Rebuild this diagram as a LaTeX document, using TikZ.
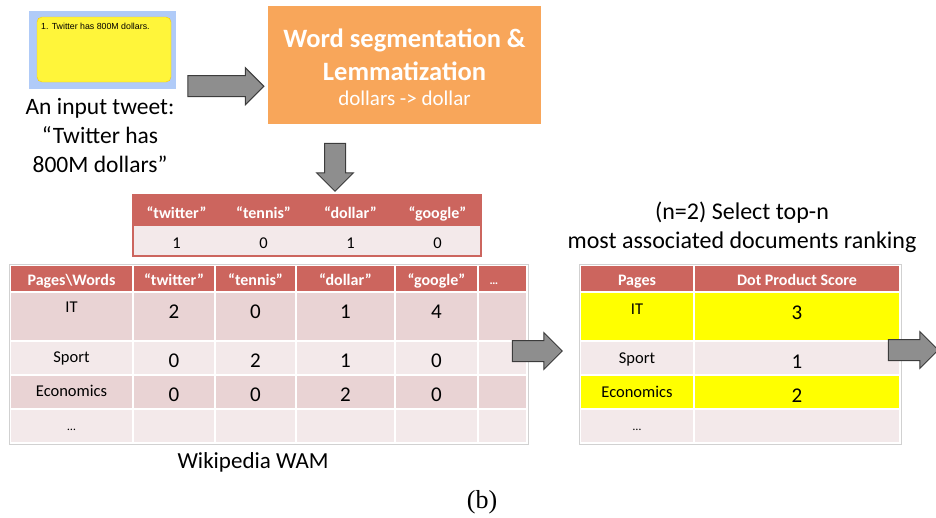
\documentclass[tikz,border=0pt]{standalone}
\usepackage{fontspec}
\setmainfont{Carlito}
\newfontfamily\tweetfont{Liberation Sans}
\newfontfamily\capfont{Liberation Serif}
\usepackage{tikz}
\definecolor{hdrred}{RGB}{204,101,94}
\definecolor{rowdark}{RGB}{233,211,212}
\definecolor{rowlight}{RGB}{243,233,234}
\definecolor{segorange}{RGB}{248,166,90}
\definecolor{tweetblue}{RGB}{176,203,248}
\definecolor{tweetyellow}{RGB}{255,245,58}
\definecolor{arrowgray}{RGB}{142,142,142}
\definecolor{arrowline}{RGB}{60,60,60}
\definecolor{hiyellow}{RGB}{255,255,0}
\tikzstyle{fatarrow}=[single arrow, draw=arrowline, fill=arrowgray, line width=1pt, inner sep=10pt, single arrow head extend=8pt, single arrow tip angle=90]
\tikzstyle{segbox}=[draw=white, line width=3pt, fill=segorange, minimum width=276pt, minimum height=121pt, drop shadow={shadow xshift=1.5pt, shadow yshift=-1.5pt, opacity=.35, fill=black}]
\tikzstyle{cellbox}=[draw=white, line width=1.5pt]
\tikzstyle{hdrtext}=[anchor=base, inner sep=0, text=white, font=\bfseries\fontsize{16}{19}\selectfont]
\tikzstyle{lbltext}=[anchor=base, inner sep=0, font=\fontsize{16.5}{19}\selectfont]
\tikzstyle{numtext}=[anchor=base, inner sep=0, font=\fontsize{21}{25}\selectfont]
\tikzstyle{bigtext}=[anchor=base, inner sep=0, font=\fontsize{23.5}{29}\selectfont]
\tikzstyle{segtext}=[anchor=base, inner sep=0, text=white, font=\bfseries\fontsize{26.5}{31}\selectfont]
\usetikzlibrary{shapes.arrows,shadows,positioning,calc}

\begin{document}
\begin{tikzpicture}[x=1pt,y=-1pt]
\useasboundingbox (0,0) rectangle (936,517);
\node (tweet) [fill=tweetblue, minimum width=147pt, minimum height=78pt, inner sep=0] at (102.5,50) {};
\node (card) [fill=tweetyellow, draw=yellow!60!orange, rounded corners=5pt, minimum width=134pt, minimum height=65pt, inner sep=0] at (104,49.5) {};
\node (tweettext) [anchor=base west, inner sep=0, font=\tweetfont\fontsize{8.8}{10}\selectfont] at (41,29) {1. Twitter has 800M dollars.};
\node (cap1) [bigtext] at (100,114) {An input tweet:};
\node (cap2) [bigtext] at (100,143) {“Twitter has};
\node (cap3) [bigtext] at (100,172) {800M dollars”};
\node (seg) [segbox] at (404.5,65) {};
\node (seg1) [segtext] at (404.5,47) {Word segmentation \&};
\node (seg2) [segtext] at (404.5,80) {Lemmatization};
\node (seg3) [anchor=base, inner sep=0, text=white, font=\fontsize{21}{25}\selectfont] at (404.5,105) {dollars -> dollar};
\node (arr1) [fatarrow, minimum height=76pt] at ($(tweet.south east)!.5!(seg.west |- tweet.south east)+(0,-3)$) {};
\node (arr2) [fatarrow, minimum height=48pt, shape border rotate=270] at ($(seg.south)+(-69.5,35)$) {};
% query vector
\fill[hdrred] (133,195) rectangle (481,226);
\fill[rowlight] (133,226) rectangle (481,256);
\draw[hdrred, line width=1.5pt] (133,195) rectangle (481,256);
\foreach \xm/\t/\v [count=\c] in {176.5/“twitter”/1, 263.5/“tennis”/0, 350.5/“dollar”/1, 437.5/“google”/0}
{
\node (qh\c) [hdrtext] at (\xm,218) {\t};
\node (qv\c) [lbltext] at (\xm,248) {\v};
}
% WAM
\foreach \xa/\xb in {10/133,133/215,215/296,296/395,395/478,478/527}
  \foreach \ya/\yb/\f in {265/292/hdrred,292/341/rowdark,341/375/rowlight,375/409/rowdark,409/443/rowlight}
    \draw[cellbox, fill=\f] (\xa,\ya) rectangle (\xb,\yb);
\draw[black!18, line width=.6pt] (9,264) rectangle (528,444);
\foreach \xm/\t [count=\c] in {71.5/{Pages\textbackslash Words}, 174/“twitter”, 255.5/“tennis”, 345.5/“dollar”, 436.5/“google”}
  \node (wh\c) [hdrtext] at (\xm,285) {\t};
\node (wh6) [hdrtext, font=\bfseries\fontsize{12}{14}\selectfont] at (494,284) {…};
\foreach \yl/\yn/\lab/\a/\b/\cc/\d [count=\r] in {312/318/IT/2/0/1/4, 362/367/Sport/0/2/1/0, 396/401/Economics/0/0/2/0}
{
\node (w\r-0) [lbltext] at (71.5,\yl) {\lab};
\node (w\r-1) [numtext] at (174,\yn) {\a};
\node (w\r-2) [numtext] at (255.5,\yn) {\b};
\node (w\r-3) [numtext] at (345.5,\yn) {\cc};
\node (w\r-4) [numtext] at (436.5,\yn) {\d};
}
\node (w4-0) [lbltext, font=\fontsize{12}{14}\selectfont] at (71.5,430) {…};
\node (wamname) [anchor=base, inner sep=0, font=\fontsize{23}{27}\selectfont] at (253,468) {Wikipedia WAM};
\node (arr3) [fatarrow, minimum height=50pt] at (532,351) {};
% ranking
\node (sel1) [bigtext, font=\fontsize{24}{29}\selectfont] at (742,219) {(n=2) Select top-n};
\node (sel2) [bigtext, font=\fontsize{24}{29}\selectfont] at (742,248) {most associated documents ranking};
\foreach \xa/\xb in {580/694,694/900}
  \foreach \ya/\yb/\f in {265/292/hdrred,292/341/hiyellow,341/375/rowlight,375/409/hiyellow,409/443/rowlight}
    \draw[cellbox, fill=\f] (\xa,\ya) rectangle (\xb,\yb);
\draw[black!18, line width=.6pt] (579,264) rectangle (901,444);
\node (rh1) [hdrtext] at (637,285) {Pages};
\node (rh2) [hdrtext] at (797,285) {Dot Product Score};
\foreach \yl/\yn/\lab/\s [count=\r] in {314/319/IT/3, 363/368/Sport/1, 397/402/Economics/2}
{
\node (r\r-0) [lbltext] at (637,\yl) {\lab};
\node (r\r-1) [numtext] at (797,\yn) {\s};
}
\node (r4-0) [lbltext, font=\fontsize{12}{14}\selectfont] at (637,430) {…};
\node (arr4) [fatarrow, minimum height=50pt] at (908,350) {};
\node (caption) [anchor=base, inner sep=0, font=\capfont\fontsize{26}{30}\selectfont] at (482,508) {(b)};
\end{tikzpicture}
\end{document}
